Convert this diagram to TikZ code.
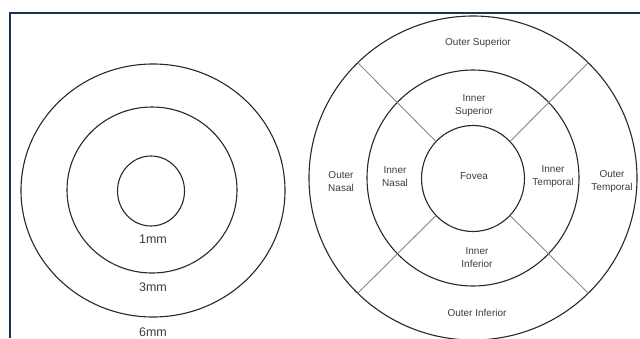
\documentclass[tikz,border=0pt]{standalone}
\usepackage{fontspec}
\setmainfont{Liberation Sans}
\usetikzlibrary{shapes.geometric}
\definecolor{framecol}{RGB}{28,50,82}
\definecolor{ringcol}{RGB}{40,40,40}
\definecolor{sectcol}{RGB}{135,135,135}
\definecolor{textcol}{RGB}{60,60,60}
\tikzstyle{ring}=[draw=ringcol, line width=1.1pt, ellipse, inner sep=0pt]
\tikzstyle{sector}=[draw=sectcol, line width=0.9pt]
\tikzstyle{zone}=[align=center, font=\fontsize{10}{13}\selectfont, text=textcol, inner sep=0pt]
\tikzstyle{mmlabel}=[font=\fontsize{12.5}{15}\selectfont, text=textcol, inner sep=0pt]

\begin{document}
\begin{tikzpicture}[x=1pt, y=-1pt]
        \useasboundingbox (0,0) rectangle (640,338);
        \clip (0,0) rectangle (640,338);
        \draw[framecol, line width=2pt] (9.5,338) -- (9.5,12.5) -- (640,12.5);
        % diameters
        \node[ring, minimum width=264pt, minimum height=253pt] (D6) at (153,190.5) {};
        \node[ring, minimum width=170pt, minimum height=166pt] (D3) at (152,190) {};
        \node[ring, minimum width=67pt, minimum height=70pt]   (D1) at (151,191) {};
        \node[mmlabel] (L1) at (153,239) {1mm};
        \node[mmlabel] (L3) at (153,287) {3mm};
        \node[mmlabel] (L6) at (153,332) {6mm};
        % grid
        \node[ring, minimum width=328pt, minimum height=324pt] (O) at (473,178) {};
        \node[ring, minimum width=212pt, minimum height=216pt] (I) at (473,178) {};
        \node[ring, minimum width=103pt, minimum height=106pt] (F) at (473,178.5) {};
        \draw[sector] (F.45) -- (O.45);
        \draw[sector] (F.135) -- (O.135);
        \draw[sector] (F.225) -- (O.225);
        \draw[sector] (F.315) -- (O.315);
        \node[zone] (OS) at (478,43) {Outer Superior};
        \node[zone] (IS) at (474,106) {Inner\\Superior};
        \node[zone] (FV) at (474,176) {Fovea};
        \node[zone] (IN) at (395,176.5) {Inner\\Nasal};
        \node[zone] (ON) at (341,182) {Outer\\Nasal};
        \node[zone] (IT) at (553,176.5) {Inner\\Temporal};
        \node[zone] (OT) at (612,182) {Outer\\Temporal};
        \node[zone] (II) at (477,257.5) {Inner\\Inferior};
        \node[zone] (OI) at (477,313) {Outer Inferior};
    \end{tikzpicture}
\end{document}
